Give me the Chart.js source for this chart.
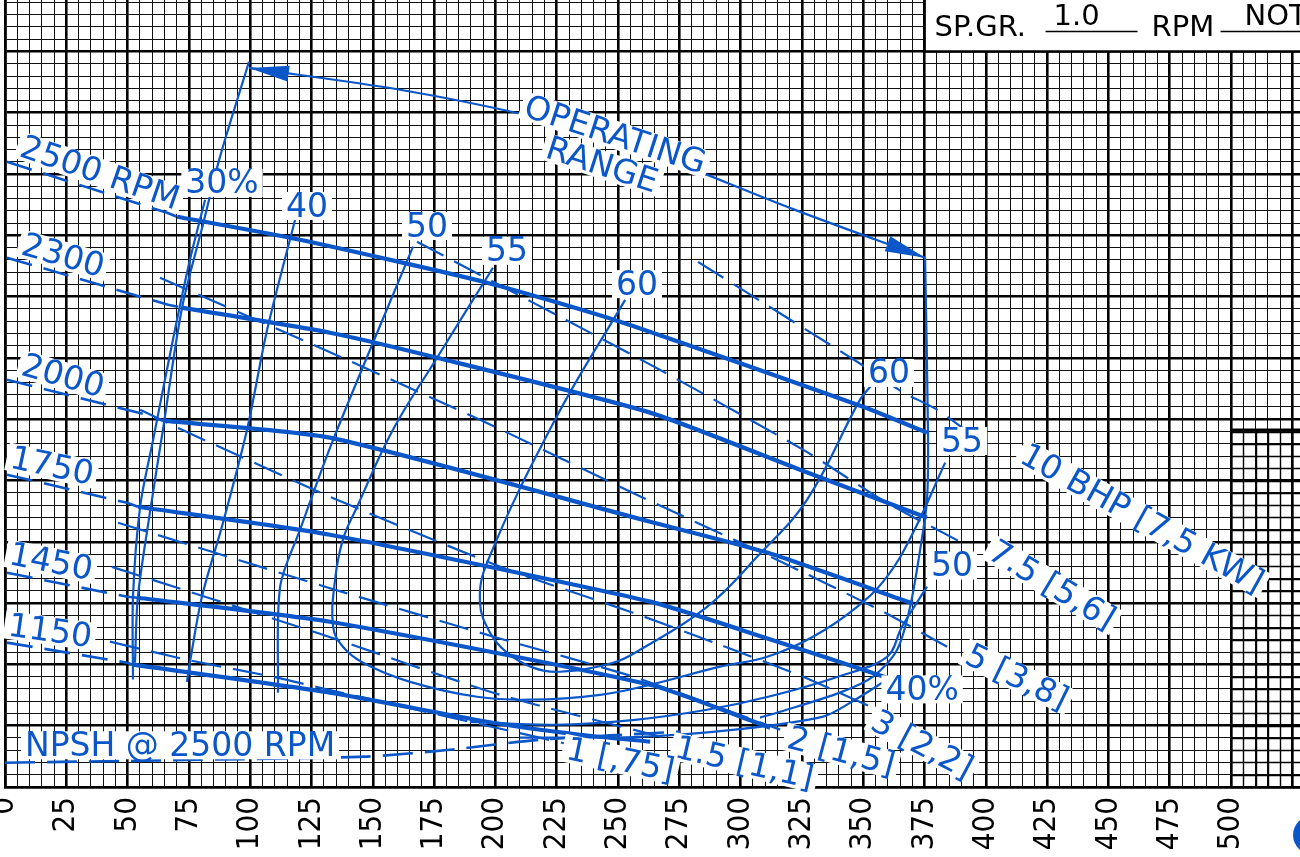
<!DOCTYPE html>
<html><head><meta charset="utf-8">
<script src="https://cdn.jsdelivr.net/npm/chart.js@4.4.0/dist/chart.umd.min.js"></script>
<style>html,body{margin:0;padding:0;background:#fff;overflow:hidden}canvas{display:block}</style>
</head><body><canvas id="c" width="1300" height="857"></canvas>
<script>
// ---------- tick labels ----------
const xTickLabels = [0,25,50,75,100,125,150,175,200,225,250,275,300,325,350,375,400,425,450,475,500];

// ---------- head-capacity curves (capacity, head) ----------
const head2500 = [[70.2,232.6],[120.3,223.2],[196.6,205.7],[250.8,189.8],[349.9,155.1],[376.0,144.5]];
const head2500Ext = [[0.8,255.0],[66.1,234.2],[70.2,232.6]];
const head2300 = [[72.2,195.5],[132.5,185.3],[176.2,175.1],[263.1,152.7],[324.2,129.4],[376.0,109.8]];
const head2300Ext = [[0.8,215.9],[66.5,196.7],[72.2,195.5]];
const head2000 = [[64.4,149.4],[132.5,142.5],[263.1,108.2],[310.8,95.6],[370.3,74.8]];
const head2000Ext = [[0.8,166.1],[57.9,151.8],[64.4,149.4]];
const head1750 = [[54.2,114.3],[132.5,102.9],[263.1,75.6],[310.0,60.9],[359.7,44.6]];
const head1750Ext = [[0.8,127.4],[49.8,115.9],[54.2,114.3]];
const head1450 = [[54.2,77.2],[132.5,67.4],[263.1,41.7],[306.7,26.2],[312.0,24.2]];
const head1450Ext = [[0.8,87.4],[49.8,77.6],[54.2,77.2]];
const head1150 = [[52.2,49.9],[132.5,38.5],[199.0,26.2],[234.5,21.3],[263.1,18.5]];
const head1150Ext = [[0.8,58.9],[49.8,50.7],[52.2,49.9]];

// ---------- efficiency curves ----------
const eff30 = [[81.6,239.5],[75.4,215.0],[69.3,186.5],[60.4,141.6],[55.1,114.3],[52.2,77.6],[52.2,43.8]];
const eff40Left = [[118.3,231.4],[106.9,186.5],[98.7,145.7],[88.9,107.8],[80.3,77.6],[75.4,50.7],[74.2,42.9]];
const eff40Right = [[210.0,20.1],[259.0,20.5],[297.7,23.4],[333.6,28.7],[346.7,35.6],[359.7,43.8]];
const eff50Left = [[166.4,220.4],[133.8,141.6],[120.3,104.9],[112.2,81.7],[111.3,38.5]];
const eff50Right = [[189.6,26.6],[224.3,25.4],[256.9,27.4],[286.3,31.5],[311.2,36.8],[339.7,45.0],[359.7,53.1],[365.8,65.4],[376.0,81.7]];
const eff55 = [[199.0,211.8],[176.2,175.1],[158.2,145.7],[143.6,114.3],[137.8,100.9],[134.6,84.5],[133.8,65.4],[137.8,57.2],[146.0,50.7],[165.2,42.9],[192.5,36.8],[214.1,35.6],[242.7,37.6],[263.1,41.7],[291.6,49.1],[310.8,53.1],[329.5,61.3],[347.5,73.5],[359.7,85.8],[370.3,103.7],[383.4,132.3]];
const eff60 = [[252.9,198.7],[224.3,149.8],[196.6,91.5],[193.7,75.2],[197.8,62.9],[204.7,54.8],[215.3,48.7],[226.3,47.0],[248.0,50.7],[259.0,56.0],[286.3,73.5],[306.7,93.9],[327.1,117.2],[348.7,158.0],[353.6,164.1]];

// ---------- operating range ----------
const rangeLeft = [[99.5,295.8],[87.7,257.1],[80.7,229.3],[72.2,195.5],[64.4,145.7],[59.1,111.9],[54.2,77.6],[53.0,50.7]];
const rangeRight = [[375.2,215.9],[376.4,144.5],[376.0,117.2],[373.2,96.8],[369.1,73.5],[363.8,56.0],[354.0,45.0],[340.5,38.5],[316.1,30.7],[307.9,28.3]];
const rangeArrow = [[99.5,293.3],[161.1,284.4],[212.1,274.2],[250.8,264.0],[283.4,250.9],[322.2,235.4],[375.2,215.9]];

// ---------- brake horsepower lines ----------
const bhp10 = [[282.6,214.2],[350.7,171.4],[365.8,161.2],[380.1,153.9],[399.7,139.6]];
const bhp7_5 = [[168.0,222.4],[261.8,173.0],[325.4,137.6],[359.7,115.9],[390.3,99.6]];
const bhp5 = [[63.2,207.7],[125.6,180.4],[193.7,149.8],[260.2,118.0],[314.8,92.7],[358.9,71.1],[384.2,57.2]];
const bhp3 = [[55.1,153.9],[72.2,145.7],[132.5,118.4],[203.1,89.4],[256.1,71.1],[291.6,58.0],[325.4,45.0],[354.0,32.3]];
const bhp2 = [[46.1,107.8],[130.5,81.7],[200.7,60.9],[256.1,45.0],[316.1,23.4]];
const bhp1_5 = [[43.6,89.8],[127.2,62.9],[201.9,37.6],[275.3,18.5]];
const bhp1 = [[42.8,59.3],[74.2,51.9],[110.9,44.6],[128.5,40.5],[230.4,17.3]];
const npsh2500 = [[0,9.9],[79.5,11.1],[147.6,12.4],[181.5,15.2],[218.2,19.3],[275.3,22.6]];

// ---------- curve labels: text, capacity, head, angle ----------
const curveLabels = [
  ['2500 RPM', 38.7, 250.5, 19],
  ['2300', 23.7, 216.8, 16],
  ['2000', 23.7, 167.7, 16],
  ['1750', 19.2, 131.0, 12],
  ['1450', 18.8, 91.9, 11],
  ['1150', 18.4, 63.7, 8],
  ['30%', 88.5, 246.4, 0],
  ['40', 123.2, 237.0, 0],
  ['50', 172.1, 228.8, 0],
  ['55', 204.7, 218.7, 0],
  ['60', 257.7, 205.1, 0],
  ['60', 360.5, 168.9, 0],
  ['55', 390.3, 141.1, 0],
  ['50', 386.2, 90.3, 0],
  ['40%', 374.0, 39.8, 0],
  ['OPERATING', 248.8, 266.0, 18],
  ['RANGE', 243.5, 253.8, 18],
  ['10 BHP [7,5 KW]', 463.7, 109.6, 29],
  ['7.5 [5,6]', 427.0, 82.5, 31],
  ['5 [3,8]', 412.7, 44.9, 26],
  ['3 [2,2]', 374.0, 17.3, 28],
  ['2 [1,5]', 341.0, 14.6, 15],
  ['1.5 [1,1]', 301.5, 10.0, 13],
  ['1 [,75]', 251.0, 11.1, 12],
  ['NPSH @ 2500 RPM', 71.4, 17.0, 0]
];
const headerTexts = ['SP.GR.', '1.0', 'RPM', 'NOT'];

// ---------- styling ----------
const BLUE = '#0b57c9';
const LABEL_FONT = '33px "DejaVu Sans", sans-serif';
const toXY = a => a.map(p => ({x: p[0], y: p[1]}));
function line(pts, w, dash, tension) {
  return {data: toXY(pts), borderColor: BLUE, borderWidth: w, borderDash: dash || [],
          pointRadius: 0, fill: false, tension: tension, showLine: true, borderCapStyle: 'butt'};
}
const HD = [26, 12], BD = [30, 12];
const datasets = [
  line(head2500, 4.2, null, 0.2), line(head2300, 4.2, null, 0.2), line(head2000, 4.2, null, 0.2),
  line(head1750, 4.2, null, 0.2), line(head1450, 4.2, null, 0.2), line(head1150, 4.2, null, 0.2),
  line(head2500Ext, 2.6, HD, 0), line(head2300Ext, 2.6, HD, 0), line(head2000Ext, 2.6, HD, 0),
  line(head1750Ext, 2.6, HD, 0), line(head1450Ext, 2.6, HD, 0), line(head1150Ext, 2.6, HD, 0),
  line(eff30, 2.2, null, 0.3), line(eff40Left, 2.2, null, 0.3), line(eff40Right, 2.2, null, 0.3),
  line(eff50Left, 2.2, null, 0.3), line(eff50Right, 2.2, null, 0.35), line(eff55, 2.2, null, 0.4),
  line(eff60, 2.2, null, 0.4),
  line(rangeLeft, 2.2, null, 0.3), line(rangeRight, 2.2, null, 0.3), line(rangeArrow, 2.2, null, 0.3),
  line(bhp10, 2.2, BD, 0.2), line(bhp7_5, 2.2, BD, 0.2), line(bhp5, 2.2, BD, 0.2), line(bhp3, 2.2, BD, 0.2),
  line(bhp2, 2.2, BD, 0.2), line(bhp1_5, 2.2, BD, 0.2), line(bhp1, 2.2, BD, 0.2),
  line(npsh2500, 2.6, BD, 0.2)
];

const steps = (a, b) => { const t = []; for (let v = a; v <= b; v += 5) t.push({value: v}); return t; };
const isMajor = c => c.tick && Math.round(c.tick.value) % 25 === 0;

const densePlugin = {
  id: 'dense',
  beforeDatasetsDraw(chart) {
    const {ctx, scales: {x, y}, chartArea: a} = chart;
    ctx.save();
    ctx.strokeStyle = '#000'; ctx.lineWidth = 1.4;
    const top = y.getPixelForValue(145.7);
    for (let v = 500; v <= 525; v += 5) {
      const px = Math.round(x.getPixelForValue(v)) + 0.5;
      ctx.beginPath(); ctx.moveTo(px, top); ctx.lineTo(px, a.bottom); ctx.stroke();
    }
    for (let v = 0; v <= 145; v += 5) {
      const py = Math.round(y.getPixelForValue(v)) + 0.5;
      ctx.beginPath(); ctx.moveTo(x.getPixelForValue(500), py); ctx.lineTo(a.right, py); ctx.stroke();
    }
    ctx.lineWidth = 2.6;
    ctx.beginPath(); ctx.moveTo(x.getPixelForValue(500), top); ctx.lineTo(a.right, top); ctx.stroke();
    ctx.restore();
  }
};

const labelPlugin = {
  id: 'labels',
  afterDatasetsDraw(chart) {
    const {ctx, scales: {x, y}} = chart;
    const arrowHead = (tip, from) => {
      const tx = x.getPixelForValue(tip[0]), ty = y.getPixelForValue(tip[1]);
      const fx = x.getPixelForValue(from[0]), fy = y.getPixelForValue(from[1]);
      const ang = Math.atan2(ty - fy, tx - fx);
      ctx.save(); ctx.translate(tx, ty); ctx.rotate(ang);
      ctx.fillStyle = BLUE; ctx.beginPath();
      ctx.moveTo(0, 0); ctx.lineTo(-40, -8); ctx.lineTo(-40, 8); ctx.closePath(); ctx.fill();
      ctx.restore();
    };
    arrowHead(rangeArrow[0], rangeArrow[1]);
    arrowHead(rangeArrow[rangeArrow.length - 1], rangeArrow[rangeArrow.length - 2]);
    ctx.save();
    ctx.font = LABEL_FONT; ctx.textAlign = 'center'; ctx.textBaseline = 'middle';
    curveLabels.forEach(([t, vx, vy, ang]) => {
      const px = x.getPixelForValue(vx), py = y.getPixelForValue(vy);
      const w = ctx.measureText(t).width;
      ctx.save(); ctx.translate(px, py); ctx.rotate(ang * Math.PI / 180);
      ctx.fillStyle = '#fff'; ctx.fillRect(-w / 2 - 4, -14, w + 8, 28);
      ctx.fillStyle = BLUE; ctx.fillText(t, 0, 2);
      ctx.restore();
    });
    ctx.restore();
  },
  afterDraw(chart) {
    const {ctx, scales: {x, y}} = chart;
    const L = x.getPixelForValue(375), B = y.getPixelForValue(300);
    ctx.save();
    ctx.fillStyle = '#fff'; ctx.fillRect(L, 0, chart.width - L, B);
    ctx.strokeStyle = '#000'; ctx.lineWidth = 2.6;
    ctx.beginPath(); ctx.moveTo(L, 0); ctx.lineTo(L, B); ctx.lineTo(chart.width, B); ctx.stroke();
    ctx.fillStyle = '#000'; ctx.font = '29px "DejaVu Sans", sans-serif'; ctx.textBaseline = 'alphabetic';
    ctx.fillText(headerTexts[0], L + 10, 36);
    ctx.fillText(headerTexts[1], L + 129, 25);
    ctx.fillText(headerTexts[2], L + 227, 36);
    ctx.fillText(headerTexts[3], L + 320, 25);
    ctx.lineWidth = 1.3;
    ctx.beginPath(); ctx.moveTo(L + 121, 31.5); ctx.lineTo(L + 213, 31.5); ctx.stroke();
    ctx.beginPath(); ctx.moveTo(L + 296, 31.5); ctx.lineTo(chart.width, 31.5); ctx.stroke();
    ctx.fillStyle = BLUE; ctx.beginPath(); ctx.arc(chart.width + 12, 835, 19, 0, Math.PI * 2); ctx.fill();
    ctx.restore();
  }
};

new Chart(document.getElementById('c'), {
  type: 'line',
  data: {datasets},
  options: {
    responsive: false, animation: false, devicePixelRatio: 1,
    layout: {padding: 0},
    plugins: {legend: {display: false}, tooltip: {enabled: false}, title: {display: false}},
    scales: {
      x: {
        type: 'linear', min: 0, max: 528.1,
        afterBuildTicks: s => { s.ticks = steps(0, 525); },
        afterFit: s => { s.height = 70; s.paddingLeft = 0; s.paddingRight = 0; },
        grid: {color: c => isMajor(c) ? '#000' : '#111', lineWidth: c => isMajor(c) ? 2.6 : 1, drawTicks: false},
        border: {display: true, color: '#000', width: 2.6},
        ticks: {
          autoSkip: false, minRotation: 90, maxRotation: 90, padding: 10, color: '#000',
          font: {family: '"Liberation Sans Narrow", "DejaVu Sans Condensed", sans-serif', size: 31},
          callback: v => xTickLabels.includes(v) ? String(v) : ''
        }
      },
      y: {
        type: 'linear', min: 0, max: 321,
        afterBuildTicks: s => { s.ticks = steps(0, 320); },
        afterFit: s => { s.width = 5; s.paddingTop = 0; s.paddingBottom = 0; },
        grid: {color: c => isMajor(c) ? '#000' : '#111', lineWidth: c => isMajor(c) ? 2.6 : 1, drawTicks: false},
        border: {display: true, color: '#000', width: 2.6},
        ticks: {display: false}
      }
    }
  },
  plugins: [densePlugin, labelPlugin]
});
</script>
</body></html>
